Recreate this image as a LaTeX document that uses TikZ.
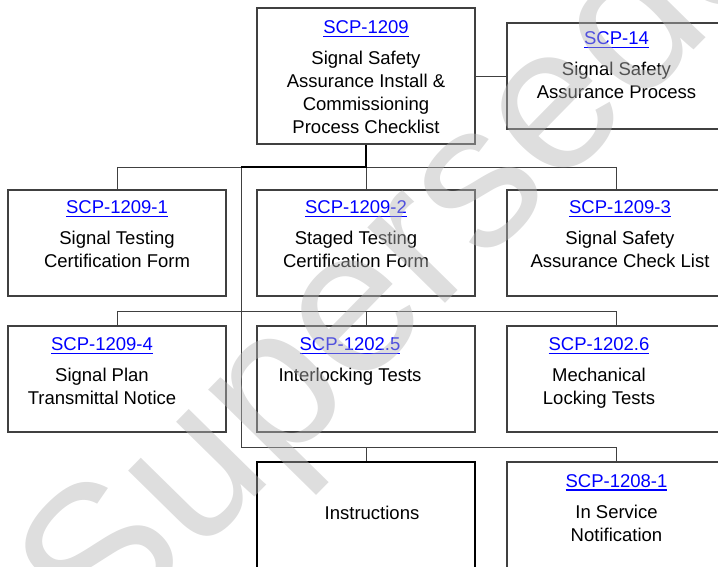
\documentclass[tikz,border=0pt]{standalone}
\usepackage{fontspec}
\setmainfont{Liberation Sans}
\usetikzlibrary{positioning}
\definecolor{lnk_blue}{RGB}{0, 0, 255}
\definecolor{edge_grey}{RGB}{64, 64, 64}
\newcommand{\scpref}[1]{\textcolor{lnk_blue}{\setbox0\hbox{#1}\rlap{\rule[-3.2pt]{\wd0}{1.3pt}}\box0}}

\begin{document}
\begin{tikzpicture}[x=1pt, y=-1pt, font=\fontsize{18.5}{23}\selectfont,
      doc/.style={draw=edge_grey, line width=1.2pt, minimum width=218pt, minimum height=106pt, inner sep=0pt},
      txt/.style={align=center, inner sep=0pt, anchor=north},
      bus/.style={draw=edge_grey, line width=0.9pt},
      trunk/.style={draw=black, line width=1.8pt},
      stamp/.style={font=\fontsize{205}{205}\selectfont, text=black!29, opacity=0.45, rotate=45.5}]
    \clip (0,0) rectangle (718,567);
    % boxes
    \node[doc, minimum height=136pt] (top) at (366,76)  {};
    \node[doc]   (proc) at (616,76)  {};
    \node[doc]   (f1)   at (117,243) {};
    \node[doc]   (f2)   at (366,243) {};
    \node[doc]   (f3)   at (616,243) {};
    \node[doc]   (f4)   at (117,379) {};
    \node[doc]   (il)   at (366,379) {};
    \node[doc]   (ml)   at (616,379) {};
    \node[doc, draw=black, line width=2pt, minimum height=110pt] (ins) at (366,517) {};
    \node[doc, minimum height=110pt] (svc) at (616,517) {};
    % texts
    \node[txt] (top-t)  at (366,20.6)  {\scpref{SCP-1209}\\[8pt] Signal Safety\\ Assurance Install \&\\ Commissioning\\ Process Checklist};
    \node[txt] (proc-t) at (616.5,31.6) {\scpref{SCP-14}\\[8pt] Signal Safety\\ Assurance Process};
    \node[txt] (f1-t)   at (117,200.6) {\scpref{SCP-1209-1}\\[8pt] Signal Testing\\ Certification Form};
    \node[txt] (f2-t)   at (356,200.6) {\scpref{SCP-1209-2}\\[8pt] Staged Testing\\ Certification Form};
    \node[txt] (f3-t)   at (620,200.6) {\scpref{SCP-1209-3}\\[8pt] Signal Safety\\ Assurance Check List};
    \node[txt] (f4-t)   at (102,337.6) {\scpref{SCP-1209-4}\\[8pt] Signal Plan\\ Transmittal Notice};
    \node[txt] (il-t)   at (350,337.6) {\scpref{SCP-1202.5}\\[8pt] Interlocking Tests};
    \node[txt] (ml-t)   at (599,337.6) {\scpref{SCP-1202.6}\\[8pt] Mechanical\\ Locking Tests};
    \node[txt] (ins-t)  at (372,505.6) {Instructions};
    \node[txt] (svc-t)  at (616.5,474.3) {\scpref{SCP-1208-1}\\[8pt] In Service\\ Notification};
    % connectors
    \coordinate (bus2) at (0,167);
    \coordinate (bus3) at (0,311);
    \coordinate (bus4) at (0,447);
    \draw[bus] (top.east) -- (proc.west);
    \draw[bus] (f1.north |- bus2) -- (f3.north |- bus2);
    \draw[bus] (f1.north |- bus3) -- (ml.north |- bus3);
    \draw[bus] (241,167) -- (241,447) -- (svc.north |- bus4);
    \foreach \n/\b in {f1/bus2, f2/bus2, f3/bus2, f4/bus3, il/bus3, ml/bus3, ins/bus4, svc/bus4}
      \draw[bus] (\n.north |- \b) -- (\n.north);
    \draw[trunk] (top.south) -- (top.south |- bus2) -- (241,167);
    % watermark
    \node[stamp] (mark) at (450,223) {Superseded};
\end{tikzpicture}
\end{document}
